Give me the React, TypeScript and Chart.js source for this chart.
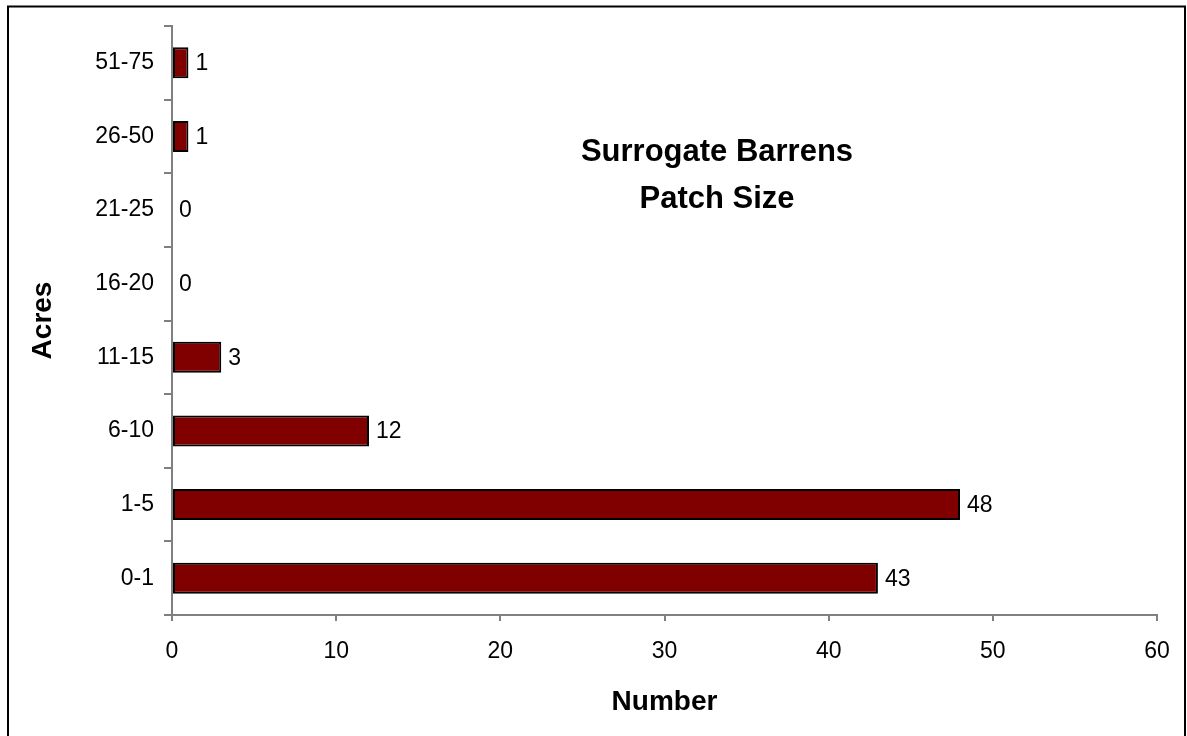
import React, { useEffect, useRef } from "react";
import { Chart, registerables } from "chart.js";

Chart.register(...registerables);

// Patch size classes (acres), listed from smallest to largest
const acreClasses: string[] = ["0-1", "1-5", "6-10", "11-15", "16-20", "21-25", "26-50", "51-75"];
// Number of patches in each class
const patchCounts: number[] = [43, 48, 12, 3, 0, 0, 1, 1];
// Number axis ticks
const numberMin = 0;
const numberMax = 60;
const numberStep = 10;

const titleLines: string[] = ["Surrogate Barrens", "Patch Size"];
const xTitle = "Number";
const yTitle = "Acres";

const FONT = "'Liberation Sans', Arial, Helvetica, sans-serif";
const AXIS_GRAY = "#808080";

// Outer frame around the whole figure
const framePlugin = {
  id: "frame",
  afterDraw(chart: Chart) {
    const ctx = chart.ctx;
    ctx.save();
    ctx.strokeStyle = "#000";
    ctx.lineWidth = 2;
    ctx.strokeRect(8, 6.5, 1177, 800);
    ctx.restore();
  },
};

// Value printed just past the end of each bar
const valueLabelPlugin = {
  id: "valueLabels",
  afterDatasetsDraw(chart: Chart) {
    const ctx = chart.ctx;
    const meta = chart.getDatasetMeta(0);
    const values = chart.data.datasets[0].data as number[];
    ctx.save();
    ctx.font = `23px ${FONT}`;
    ctx.fillStyle = "#000";
    ctx.textAlign = "left";
    ctx.textBaseline = "middle";
    meta.data.forEach((bar: any, i: number) => {
      ctx.fillText(String(values[i]), bar.x + 7, bar.y + 1);
    });
    ctx.restore();
  },
};

// Two-line heading inside the plot area
const headingPlugin = {
  id: "heading",
  afterDraw(chart: Chart) {
    const ctx = chart.ctx;
    ctx.save();
    ctx.font = `bold 31px ${FONT}`;
    ctx.fillStyle = "#000";
    ctx.textAlign = "center";
    ctx.textBaseline = "middle";
    ctx.fillText(titleLines[0], 717, 152);
    ctx.fillText(titleLines[1], 717, 199);
    ctx.restore();
  },
};

export default function App() {
  const canvasRef = useRef<HTMLCanvasElement | null>(null);

  useEffect(() => {
    if (!canvasRef.current) return;
    const chart = new Chart(canvasRef.current, {
      type: "bar",
      data: {
        labels: acreClasses,
        datasets: [
          {
            data: patchCounts,
            backgroundColor: "#800000",
            borderColor: "#000000",
            borderWidth: 2,
            borderSkipped: false,
            barPercentage: 0.42,
            categoryPercentage: 1,
          },
        ],
      },
      options: {
        indexAxis: "y",
        animation: false,
        responsive: false,
        maintainAspectRatio: false,
        events: [],
        layout: { padding: { top: 26, right: 30, left: 0, bottom: 0 } },
        plugins: {
          legend: { display: false },
          tooltip: { enabled: false },
          title: { display: false },
        },
        scales: {
          x: {
            type: "linear",
            min: numberMin,
            max: numberMax,
            ticks: {
              stepSize: numberStep,
              color: "#000",
              font: { family: FONT, size: 23 },
              padding: 17,
              maxRotation: 0,
            },
            grid: {
              drawOnChartArea: false,
              drawTicks: true,
              tickLength: 6,
              color: AXIS_GRAY,
              lineWidth: 2,
            },
            border: { display: true, color: AXIS_GRAY, width: 2 },
            title: {
              display: true,
              text: xTitle,
              color: "#000",
              font: { family: FONT, size: 28, weight: "bold" },
              padding: { top: 0, bottom: 17 },
            },
            afterFit(scale: any) {
              scale.height = 121;
            },
          },
          y: {
            type: "category",
            reverse: true,
            offset: true,
            ticks: {
              color: "#000",
              font: { family: FONT, size: 23 },
              padding: 10,
            },
            grid: {
              offset: true,
              drawOnChartArea: false,
              drawTicks: true,
              tickLength: 8,
              color: AXIS_GRAY,
              lineWidth: 2,
            },
            border: { display: true, color: AXIS_GRAY, width: 2 },
            title: {
              display: true,
              text: yTitle,
              color: "#000",
              font: { family: FONT, size: 28, weight: "bold" },
              padding: { top: 26, bottom: 0 },
            },
            afterFit(scale: any) {
              scale.width = 172;
            },
          },
        },
      },
      plugins: [valueLabelPlugin, headingPlugin, framePlugin],
    });
    return () => chart.destroy();
  }, []);

  return (
    <div style={{ position: "absolute", left: 0, top: 0, width: 1187, height: 736, background: "#fff" }}>
      <canvas ref={canvasRef} width={1187} height={736} style={{ display: "block" }} />
    </div>
  );
}
